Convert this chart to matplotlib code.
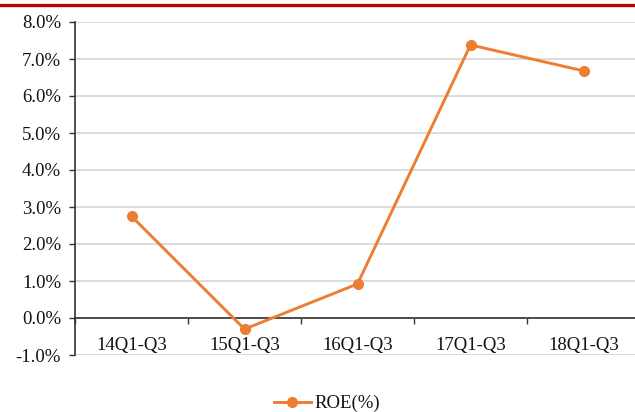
import matplotlib
matplotlib.use('Agg')
import matplotlib.pyplot as plt
from matplotlib.ticker import FuncFormatter, FixedLocator, MultipleLocator
from matplotlib.lines import Line2D

plt.rcParams['font.family'] = ['Liberation Serif', 'DejaVu Serif']

periods = ['14Q1-Q3', '15Q1-Q3', '16Q1-Q3', '17Q1-Q3', '18Q1-Q3']
roe = [2.75, -0.30, 0.92, 7.38, 6.68]

orange = '#ED7D31'
axis_color = '#333333'
text_color = '#111111'
fsize = 13.5

fig = plt.figure(figsize=(6.35, 4.12), dpi=100)
ax = fig.add_axes([75 / 635, 57 / 412, 565 / 635, 333 / 412])

xs = [i + 0.5 for i in range(len(periods))]
ax.plot(xs, roe, color=orange, linewidth=2.1, marker='o', markersize=7,
        zorder=3, clip_on=False)

ax.set_xlim(0, len(periods))
ax.set_ylim(-1, 8)
ax.yaxis.set_major_locator(MultipleLocator(1))
ax.yaxis.set_major_formatter(FuncFormatter(lambda v, p: '{:.1f}%'.format(v)))
ax.grid(axis='y', color='#D9D9D9', linewidth=1.3)
ax.set_axisbelow(True)

# category boundaries get the tick marks, the centres carry the labels
ax.xaxis.set_major_locator(FixedLocator(range(len(periods) + 1)))
ax.xaxis.set_minor_locator(FixedLocator(xs))
ax.set_xticklabels([], minor=False)
ax.set_xticklabels(periods, minor=True)
ax.tick_params(axis='x', which='major', direction='out', length=4, width=1,
               color=axis_color)
ax.tick_params(axis='x', which='minor', length=0, pad=14, labelsize=fsize,
               labelcolor=text_color)
ax.tick_params(axis='y', direction='out', length=4, width=1, color=axis_color,
               pad=6, labelsize=fsize, labelcolor=text_color)

for s in ['top', 'right']:
    ax.spines[s].set_visible(False)
ax.spines['bottom'].set_position(('data', 0))
ax.spines['bottom'].set_color(axis_color)
ax.spines['bottom'].set_linewidth(1.2)
ax.spines['left'].set_color(axis_color)
ax.spines['left'].set_linewidth(1.2)

handle = Line2D([], [], color=orange, linewidth=2.1, marker='o', markersize=7)
fig.legend([handle], ['ROE(%)'], loc='center', bbox_to_anchor=(0.515, 0.02),
           frameon=False, fontsize=fsize, handlelength=2.0, handletextpad=0.2,
           labelcolor=text_color)

# red rule along the top edge
fig.add_artist(Line2D([0, 1], [1 - 5 / 412, 1 - 5 / 412], color='#C00000',
                      linewidth=2.4, transform=fig.transFigure))

fig.savefig('out.png', dpi=100)
